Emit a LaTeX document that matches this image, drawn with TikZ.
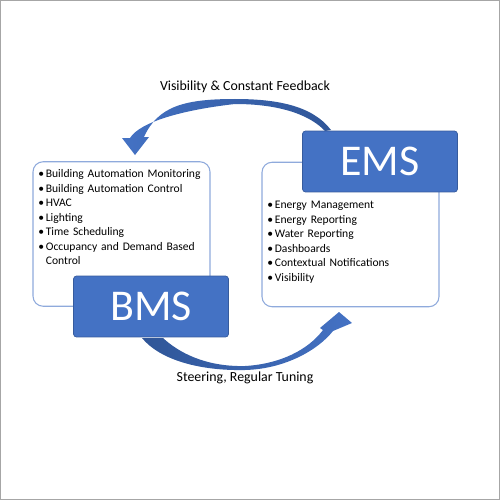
\documentclass[tikz,border=0pt]{standalone}
\usepackage{fontspec}
\setmainfont{Carlito}
\usetikzlibrary{positioning,backgrounds}
\definecolor{msblue}{HTML}{4472C4}
\definecolor{msdark}{HTML}{2F5597}
\definecolor{boxline}{HTML}{8FAADC}
\newcommand{\bitem}[1]{\par\noindent\makebox[0.15cm][l]{\textbullet}#1}

\begin{document}
\begin{tikzpicture}[x=0.02cm, y=-0.02cm,
    listbox/.style={draw=boxline, line width=0.6pt, rounded corners=0.2cm, fill=white, minimum width=3.54cm, minimum height=2.89cm},
    titlebox/.style={fill=msblue, draw=msblue!80!black, line width=0.4pt, rounded corners=0.06cm, text=white, minimum width=3.1cm, minimum height=1.22cm, font=\fontsize{25}{25}\selectfont},
    items/.style={anchor=north west, inner sep=0pt, text width=3.4cm, font=\fontsize{6.6}{8.25}\selectfont},
    caption/.style={inner sep=0pt, font=\fontsize{7.9}{9}\selectfont}
]
\useasboundingbox (0,0) rectangle (500,500);
\draw[gray!70, line width=0.03cm] (0.75,0.75) rectangle (499.25,499.25);

% list boxes
\node[listbox] (bmsbox) at (121.5,234) {};
\node[listbox] (emsbox) at (350.5,234.5) {};

\node[items] (bmsitems) at (38,163) {\raggedright
  \bitem{Building Automation Monitoring}
  \bitem{Building Automation Control}
  \bitem{HVAC}
  \bitem{Lighting}
  \bitem{Time Scheduling}
  \bitem{Occupancy and Demand Based\newline\hspace*{0.15cm}Control}};
\node[items] (emsitems) at (267,194) {\raggedright
  \bitem{Energy Management}
  \bitem{Energy Reporting}
  \bitem{Water Reporting}
  \bitem{Dashboards}
  \bitem{Contextual Notifications}
  \bitem{Visibility}};

% title boxes
\node[titlebox] (bms) at (151,306.5) {BMS};
\node[titlebox] (ems) at (380,161.5) {EMS};

% captions
\node[caption] (feedback) at (245,87) {Visibility \& Constant Feedback};
\node[caption] (tuning) at (245,378) {Steering, Regular Tuning};

% curved arrows
\begin{scope}[on background layer]
\path[left color=msblue, right color=msdark]
  (331,130) .. controls (312,105) and (275,99) .. (235,99)
  .. controls (185,99) and (158,106) .. (144,137)
  -- (149,137) -- (135,155) -- (122,138) -- (130,138)
  .. controls (140,122) and (182,110) .. (235,104)
  .. controls (280,104) and (310,115) .. (325,131) -- cycle;
\path[left color=msdark, right color=msblue]
  (142,338) .. controls (160,360) and (200,371) .. (245,370)
  .. controls (285,369) and (318,350) .. (333,331)
  -- (352,323) -- (339,312) -- (320,328) -- (323,330)
  .. controls (308,350) and (280,364) .. (245,366)
  .. controls (205,367) and (178,352) .. (163,338) -- cycle;
\end{scope}
\end{tikzpicture}
\end{document}
